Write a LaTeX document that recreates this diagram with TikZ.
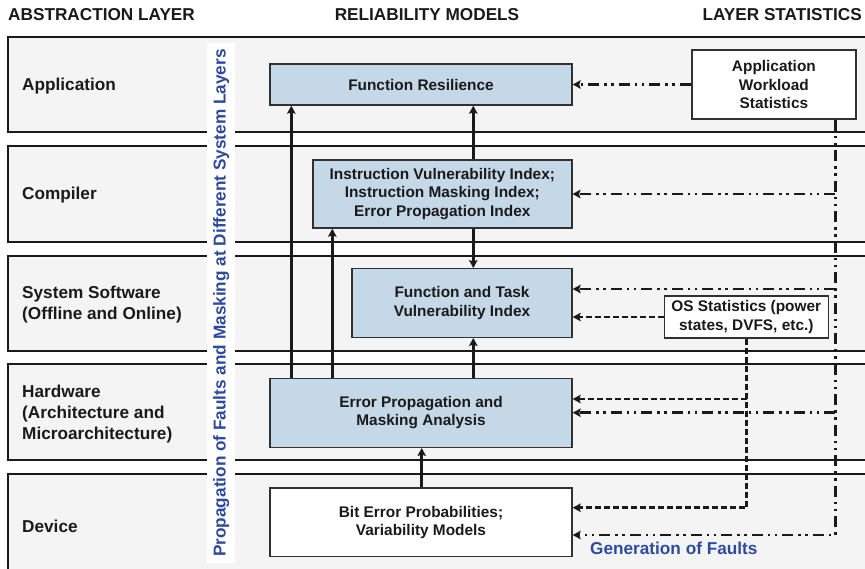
\documentclass[tikz,border=0pt]{standalone}
\usepackage{fontspec}
\setmainfont{Liberation Sans}
\usetikzlibrary{arrows.meta}

\definecolor{bandfill}{RGB}{244,244,244}
\definecolor{modelfill}{RGB}{197,216,232}
\definecolor{ink}{RGB}{26,26,26}
\definecolor{noteblue}{RGB}{46,74,158}

\tikzset{
  band/.style={draw=ink, line width=2pt, fill=bandfill},
  hdr/.style={font=\fontsize{17.2}{20.6}\selectfont\bfseries, text=ink, inner sep=0pt},
  layerlbl/.style={font=\fontsize{17.2}{21}\selectfont\bfseries, text=ink,
    align=left, anchor=west, inner sep=0pt},
  model/.style={draw=ink!90, line width=1.4pt, fill=modelfill,
    font=\fontsize{15.4}{18.4}\selectfont\bfseries, text=ink, align=center, inner sep=0pt},
  stat/.style={model, fill=white, line width=1.6pt},
  tip/.style={-{Stealth[length=8pt,width=8.5pt,inset=1.5pt]}},
  flow/.style={line width=2.8pt, draw=ink},
  wlline/.style={flow, dash pattern=on 11pt off 5pt on 2.5pt off 4.5pt on 2.5pt off 5pt},
  osline/.style={flow, dash pattern=on 6pt off 3pt},
  bluenote/.style={font=\fontsize{17.2}{20.6}\selectfont\bfseries, text=noteblue, inner sep=0pt},
}

\begin{document}
\begin{tikzpicture}[x=1pt, y=-1pt]
  % page frame
  \fill[white] (0,0) rectangle (865,568);
  \clip (0,0) rectangle (865,568);

  % column headers
  \node[hdr, anchor=west] (hlayer) at (8,14.8) {ABSTRACTION LAYER};
  \node[hdr] (hmodels) at (427,14.8) {RELIABILITY MODELS};
  \node[hdr, anchor=east] (hstats) at (862,14.8) {LAYER STATISTICS};

  % abstraction layer bands
  \draw[band] (8.3,36.5) rectangle (880,131.7);
  \draw[band] (8.3,146) rectangle (880,241.7);
  \draw[band] (8.3,256) rectangle (880,350.7);
  \draw[band] (8.3,364) rectangle (880,460.3);
  \draw[band] (8.3,474) rectangle (880,590);

  % layer names
  \node[layerlbl] (lapp) at (22,85.7) {Application};
  \node[layerlbl] (lcomp) at (22,194.7) {Compiler};
  \node[layerlbl] (lsys) at (22,304.5) {System Software\\(Offline and Online)};
  \node[layerlbl] (lhw) at (22,413.7) {Hardware\\(Architecture and\\Microarchitecture)};
  \node[layerlbl] (ldev) at (22,525.9) {Device};

  % vertical caption on a white strip
  \node[bluenote, rotate=90, fill=white, minimum width=519.4pt, minimum height=27.7pt]
    (vcap) at (221.2,303) {Propagation of Faults and Masking at Different System Layers};

  % reliability models
  \node[model, minimum width=302pt, minimum height=41pt] (fr) at (421,84.5) {Function Resilience};
  \node[model, minimum width=259pt, minimum height=68pt] (iv) at (442.3,194)
    {Instruction Vulnerability Index;\\Instruction Masking Index;\\Error Propagation Index};
  \node[model, minimum width=220pt, minimum height=68.5pt] (ft) at (462,303)
    {Function and Task\\Vulnerability Index};
  \node[model, minimum width=302pt, minimum height=69pt] (ep) at (421,412.8)
    {Error Propagation and\\Masking Analysis};
  \node[model, fill=white, minimum width=302pt, minimum height=68.7pt] (be) at (421,522.3)
    {Bit Error Probabilities;\\Variability Models};

  % layer statistics
  \node[stat, minimum width=164.3pt, minimum height=69pt] (aws) at (773.9,84.5)
    {Application\\Workload\\Statistics};
  \node[stat, minimum width=164pt, minimum height=41.7pt] (os) at (746.3,317)
    {OS Statistics (power\\states, DVFS, etc.)};

  % upward propagation
  \coordinate (ca) at (291.3,0);
  \coordinate (cb) at (332.3,0);
  \coordinate (cc) at (473.3,0);
  \coordinate (cd) at (421.7,0);
  \draw[flow, tip] (ep.north -| ca) -- (fr.south -| ca);
  \draw[flow, tip] (ep.north -| cb) -- (iv.south -| cb);
  \draw[flow, tip] (ep.north -| cc) -- (ft.south -| cc);
  \draw[flow, tip] (iv.north -| cc) -- (fr.south -| cc);
  \draw[flow, tip] (iv.south -| cc) -- (ft.north -| cc);
  \draw[flow, tip] (be.north -| cd) -- (ep.south -| cd);

  % application workload statistics feed
  \coordinate (wl1) at (835.3,194);
  \coordinate (wl2) at (835.3,289);
  \coordinate (wl3) at (835.3,412.7);
  \coordinate (wl4) at (835.3,535);
  \draw[wlline, tip] (aws.west) -- (fr.east |- aws.west);
  \draw[wlline, tip] (aws.south -| wl4) -- (wl4) -- (be.east |- wl4);
  \draw[wlline, tip] (wl1) -- (iv.east |- wl1);
  \draw[wlline, tip] (wl2) -- (ft.east |- wl2);
  \draw[wlline, tip] (wl3) -- (ep.east |- wl3);

  % OS statistics feed
  \coordinate (os1) at (746.7,399);
  \coordinate (os2) at (746.7,507.7);
  \draw[osline, tip] (os.west) -- (ft.east |- os.west);
  \draw[osline, tip] (os.south -| os2) -- (os2) -- (be.east |- os2);
  \draw[osline, tip] (os1) -- (ep.east |- os1);

  % fault generation caption
  \node[bluenote, anchor=base west] (genf) at (590,554.5) {Generation of Faults};
\end{tikzpicture}
\end{document}
